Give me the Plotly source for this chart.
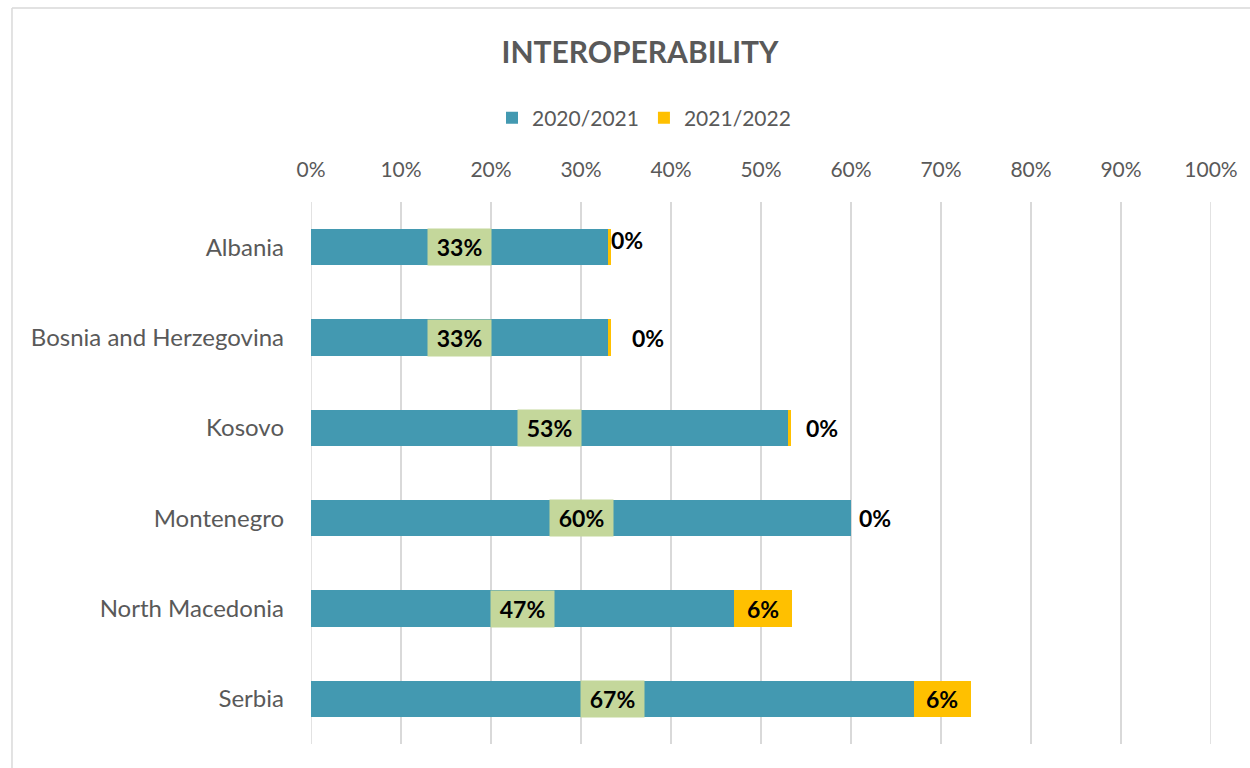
import plotly.graph_objects as go

countries = ["Albania", "Bosnia and Herzegovina", "Kosovo", "Montenegro", "North Macedonia", "Serbia"]
series_names = ["2020/2021", "2021/2022"]
v2020 = [33, 33, 53, 60, 47, 67]
v2021 = [0.3, 0.3, 0.3, 0, 6.4, 6.3]
x_ticks = [0, 10, 20, 30, 40, 50, 60, 70, 80, 90, 100]
x_tick_labels = [f"{t}%" for t in x_ticks]

TEAL = "#4399B1"
GOLD = "#FFC000"
LABEL_BG = "#C4D79B"
GRAY = "#595959"
FONT = "Lato"

# styling: pixel shifts for the small outside labels of the second series
small_label_xshift = [-2, 19, 13, 6]
small_label_yshift = [7, 0, 0, 0]

fig = go.Figure()
fig.add_trace(go.Bar(y=countries, x=v2020, orientation="h", name=series_names[0],
                     marker=dict(color=TEAL, line=dict(width=0)), hoverinfo="skip"))
fig.add_trace(go.Bar(y=countries, x=v2021, orientation="h", name=series_names[1],
                     marker=dict(color=GOLD, line=dict(width=0)), hoverinfo="skip"))

LBL_FONT = dict(family=FONT, size=23, color="black")
annotations = []
for c, a in zip(countries, v2020):
    annotations.append(dict(x=a / 2, y=c, xref="x", yref="y", text=f"<b>{round(a)}%</b>",
                            showarrow=False, bgcolor=LABEL_BG, width=63, height=36, borderpad=0,
                            font=LBL_FONT, align="center", valign="middle"))
k = 0
for c, a, b in zip(countries, v2020, v2021):
    txt = f"<b>{round(b)}%</b>"
    if b < 2:
        annotations.append(dict(x=a + b, y=c, xref="x", yref="y", text=txt, showarrow=False,
                                xanchor="left", xshift=small_label_xshift[k], yshift=small_label_yshift[k],
                                font=LBL_FONT))
        k += 1
    else:
        annotations.append(dict(x=a + b / 2, y=c, xref="x", yref="y", text=txt, showarrow=False,
                                font=LBL_FONT))

W, H = 1250, 768
L, R, T, B = 311, 33, 202, 24
pw, ph = W - L - R, H - T - B

def px_x(p):
    return (p - L) / pw

def px_y(p):
    return (H - B - p) / ph

shapes = [
    dict(type="line", xref="paper", yref="paper", x0=px_x(10), x1=px_x(1260), y0=px_y(8), y1=px_y(8),
         line=dict(color="#D9D9D9", width=1.5)),
    dict(type="line", xref="paper", yref="paper", x0=px_x(10), x1=px_x(10), y0=px_y(8), y1=px_y(780),
         line=dict(color="#D9D9D9", width=1.5)),
]

fig.update_layout(
    width=W, height=H,
    margin=dict(l=L, r=R, t=T, b=B),
    barmode="stack", bargap=0.6,
    plot_bgcolor="white", paper_bgcolor="white",
    font=dict(family=FONT, color=GRAY),
    title=dict(text="<b>INTEROPERABILITY</b>", x=640 / W, xref="container", xanchor="center",
               y=1 - 52 / H, yref="container", yanchor="middle",
               font=dict(family=FONT, size=30, color=GRAY)),
    legend=dict(orientation="h", xref="container", yref="container", x=644 / W, xanchor="center",
                y=1 - 118 / H, yanchor="middle", font=dict(family=FONT, size=21, color=GRAY),
                itemwidth=30, traceorder="normal"),
    xaxis=dict(range=[0, 100], side="top", tickvals=x_ticks, ticktext=x_tick_labels,
               showgrid=True, gridcolor="#D9D9D9", gridwidth=1.5, zeroline=False,
               showline=False, ticks="", ticklabelstandoff=20,
               tickfont=dict(family=FONT, size=21, color=GRAY), fixedrange=True),
    yaxis=dict(autorange="reversed", showgrid=False, ticks="", ticklabelstandoff=26,
               tickfont=dict(family=FONT, size=24, color=GRAY), fixedrange=True),
    annotations=annotations,
    shapes=shapes,
    showlegend=True,
)
for edge in (x_ticks[0], x_ticks[-1]):
    fig.add_vline(x=edge, line=dict(color="#D9D9D9", width=1.5), layer="below")

fig.write_html("out.html", config={"displayModeBar": False},
               post_script="document.body.style.margin='0';document.body.style.overflow='hidden';")
